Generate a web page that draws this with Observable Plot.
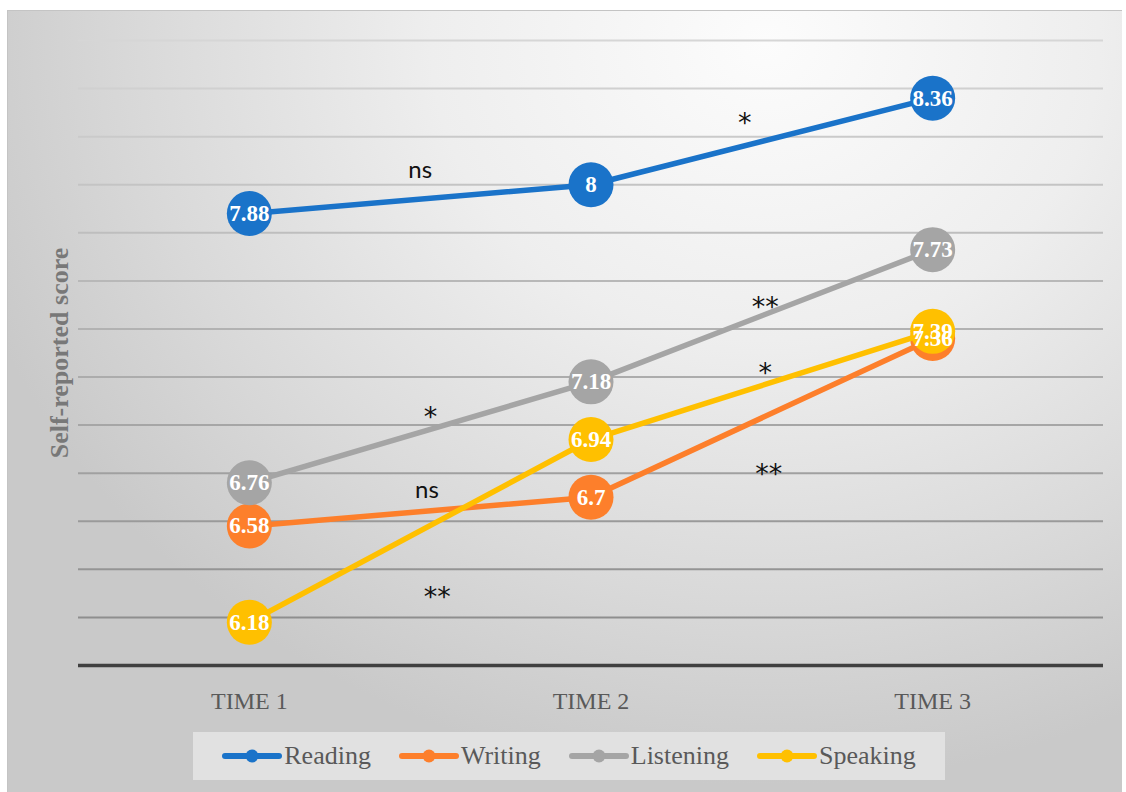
<!DOCTYPE html>
<html>
<head>
<meta charset="utf-8">
<script src="https://cdn.jsdelivr.net/npm/d3@7"></script>
<script src="https://cdn.jsdelivr.net/npm/@observablehq/plot@0.6"></script>
<style>
  html, body { margin: 0; padding: 0; background: #ffffff; }
  #wrap { position: relative; width: 1126px; height: 792px; overflow: hidden; }
  #bg { position: absolute; left: 7px; top: 10px; width: 1114px; height: 782px;
        border-top: 1px solid #c4c4c4; border-left: 1px solid #c4c4c4;
        background: radial-gradient(ellipse 75% 95% at 68% 4%, #fcfcfc 0%, #eeeeee 40%, #d9d9d9 75%, #c9c9c9 100%); }
  #chart { position: absolute; left: 0; top: 0; }
  #legend { position: absolute; left: 193px; top: 732px; width: 752px; height: 48px;
            background: #e1e1e1; display: flex; align-items: center; justify-content: center; gap: 28px;
            font-family: "Liberation Serif", serif; font-size: 26px; color: #595959; }
  .item { display: flex; align-items: center; }
  .item svg { margin-right: 2px; }
</style>
</head>
<body>
<div id="wrap">
  <div id="bg"></div>
  <div id="chart"></div>
  <div id="legend"></div>
</div>
<script>
// ---- data ----
const times = ["TIME 1", "TIME 2", "TIME 3"];
const series = ["Reading", "Writing", "Listening", "Speaking"];
const colors = ["#1a73c9", "#fd7f2b", "#a5a5a5", "#ffc000"];
const reading = [7.88, 8, 8.36];
const writing = [6.58, 6.7, 7.36];
const listening = [6.76, 7.18, 7.73];
const speaking = [6.18, 6.94, 7.39];
const yGrid = [6.2, 6.4, 6.6, 6.8, 7.0, 7.2, 7.4, 7.6, 7.8, 8.0, 8.2, 8.4, 8.6];
// significance annotations (label, position in data units: time index, score)
const sigText = ["ns", "*", "ns", "**", "*", "**", "**", "*"];
const sigX = [1.5, 2.45, 1.52, 2.52, 1.53, 2.51, 1.55, 2.51];
const sigY = [8.06, 8.245, 6.73, 6.785, 7.025, 7.48, 6.275, 7.205];

const values = [reading, writing, listening, speaking];
const data = series.flatMap((s, i) => values[i].map((v, j) => ({series: s, t: j + 1, value: v})));
const sig = sigText.map((t, i) => ({text: t, x: sigX[i], y: sigY[i]}));
const sigWords = sig.filter(d => !d.text.includes("*"));
const sigStars = sig.filter(d => d.text.includes("*"));
const gridColor = d3.scaleLinear().domain([8.6, 6.2]).range(["#d6d6d6", "#8e8e8e"]);

const serif = "Liberation Serif, Times New Roman, serif";
const marks = [
  Plot.ruleY(yGrid, {stroke: d => gridColor(d), strokeWidth: 2}),
  Plot.ruleY([6], {stroke: "#404040", strokeWidth: 3.5}),
  Plot.axisX({ticks: [1, 2, 3], tickFormat: d => times[d - 1], tickSize: 0, tickPadding: 26,
              fontSize: 24, fontFamily: serif, fill: "#595959"}),
  Plot.text(["Self-reported score"], {frameAnchor: "left", dx: -19, rotate: -90, textAnchor: "middle",
              lineAnchor: "middle", fontSize: 26, fontWeight: "bold", fontFamily: serif, fill: "#787878"})
];
series.forEach((s, i) => {
  const d = data.filter(r => r.series === s);
  marks.push(Plot.line(d, {x: "t", y: "value", stroke: colors[i], strokeWidth: 5.5}));
  marks.push(Plot.dot(d, {x: "t", y: "value", r: 22.5, fill: colors[i], stroke: "none"}));
});
marks.push(Plot.text(data, {x: "t", y: "value", text: d => String(d.value), fill: "white",
  fontSize: 23, fontWeight: "bold", fontFamily: serif}));
marks.push(Plot.text(sigWords, {x: "x", y: "y", text: "text", fill: "#111", fontSize: 24,
  fontFamily: "Lato, Open Sans, sans-serif", lineAnchor: "middle"}));
marks.push(Plot.text(sigStars, {x: "x", y: "y", text: "text", fill: "#111", fontSize: 27,
  fontFamily: "DejaVu Sans, sans-serif", lineAnchor: "middle", dy: -2}));

const chart = Plot.plot({
  width: 1126,
  height: 720,
  marginLeft: 78,
  marginRight: 23,
  marginTop: 40,
  marginBottom: 55,
  style: {background: "transparent", overflow: "visible"},
  x: {type: "linear", domain: [0.5, 3.5], axis: null},
  y: {domain: [6, 8.6], axis: null},
  marks
});
document.getElementById("chart").appendChild(chart);

const legend = document.getElementById("legend");
series.forEach((s, i) => {
  const item = document.createElement("div");
  item.className = "item";
  item.innerHTML = `<svg width="60" height="16"><line x1="3" y1="8" x2="57" y2="8" stroke="${colors[i]}" stroke-width="6" stroke-linecap="round"/><circle cx="30" cy="8" r="6.5" fill="${colors[i]}"/></svg><span>${s}</span>`;
  legend.appendChild(item);
});
</script>
</body>
</html>
